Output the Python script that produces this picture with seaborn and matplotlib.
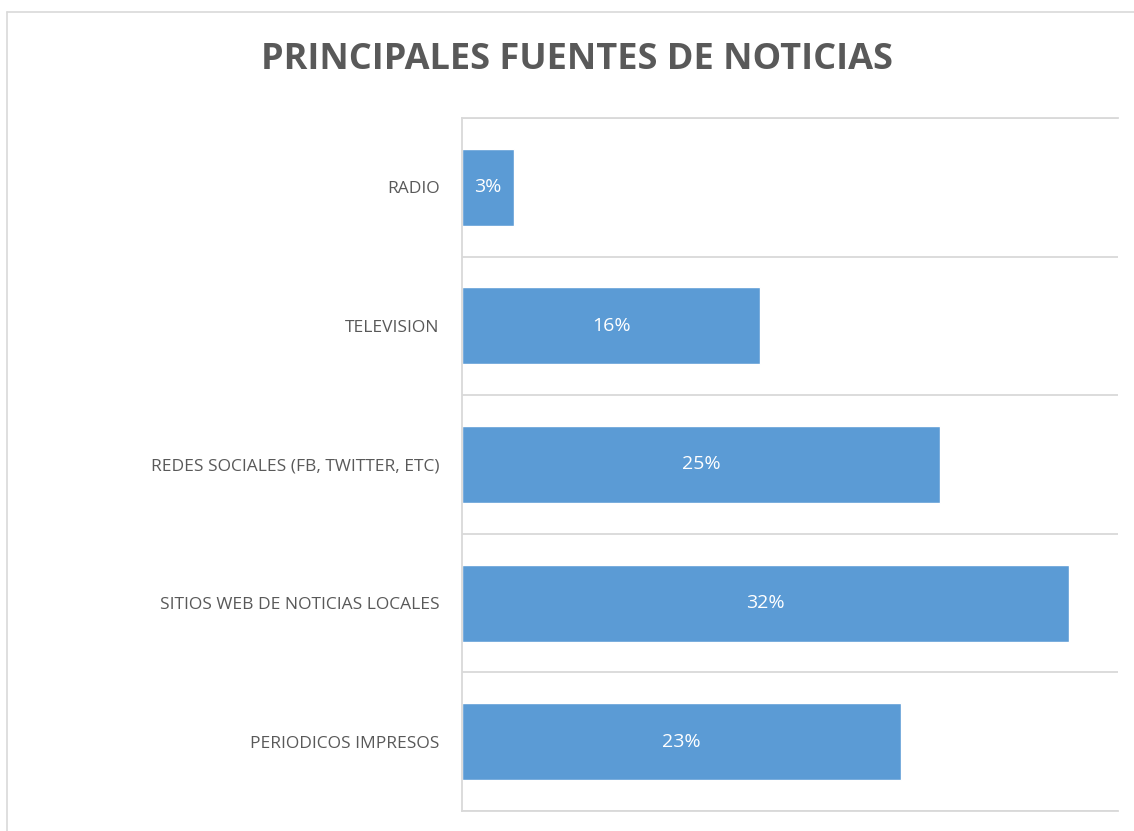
import matplotlib
matplotlib.use("Agg")
import matplotlib.pyplot as plt
import seaborn as sns
import pandas as pd
from matplotlib.lines import Line2D

categories = ["RADIO", "TELEVISION", "REDES SOCIALES (FB, TWITTER, ETC)",
              "SITIOS WEB DE NOTICIAS LOCALES", "PERIODICOS IMPRESOS"]
values = [2.8, 15.9, 25.5, 32.4, 23.4]
labels = ["3%", "16%", "25%", "32%", "23%"]
title = "PRINCIPALES FUENTES DE NOTICIAS"

sns.set_theme(style="white")
plt.rcParams['font.family'] = ['Open Sans', 'DejaVu Sans']

W, H = 1134, 831
fig = plt.figure(figsize=(W / 100, H / 100), dpi=100)
ax = fig.add_axes([462 / W, 1 - 811 / H, (1118 - 462) / W, (811 - 118) / H])

df = pd.DataFrame({"cat": categories, "val": values})
sns.barplot(data=df, x="val", y="cat", orient="h", color="#5B9BD5",
            saturation=1, width=0.555, ax=ax)

ax.bar_label(ax.containers[0], labels=labels, label_type="center",
             color="white", fontsize=14)

ax.set_xlim(0, 35)
ax.set_ylim(len(categories) - 0.5, -0.5)
ax.set_xlabel("")
ax.set_ylabel("")
ax.set_xticks([])
ax.set_yticks(range(len(categories)))
ax.set_yticklabels(categories, color="#595959", fontsize=12.5)
ax.tick_params(axis="y", length=0, pad=16)
ax.set_yticks([i + 0.5 for i in range(-1, len(categories))], minor=True)
ax.grid(True, which="minor", axis="y", color="#D9D9D9", linewidth=1.3)
ax.set_axisbelow(True)
for s in ["top", "bottom", "left"]:
    ax.spines[s].set_visible(True)
    ax.spines[s].set_color("#D9D9D9")
    ax.spines[s].set_linewidth(1.3)
ax.spines["right"].set_visible(False)

fig.text(577 / W, 1 - 60 / H, title, ha="center", va="center",
         fontsize=26, fontweight="bold", color="#595959")

# chart frame (left and top edges visible)
fig.add_artist(Line2D([7 / W, 7 / W], [0, 1 - 12 / H], transform=fig.transFigure,
                      color="#D9D9D9", linewidth=1.2))
fig.add_artist(Line2D([7 / W, 1], [1 - 12 / H, 1 - 12 / H], transform=fig.transFigure,
                      color="#D9D9D9", linewidth=1.2))

fig.savefig("out.png", dpi=100, facecolor="white")
